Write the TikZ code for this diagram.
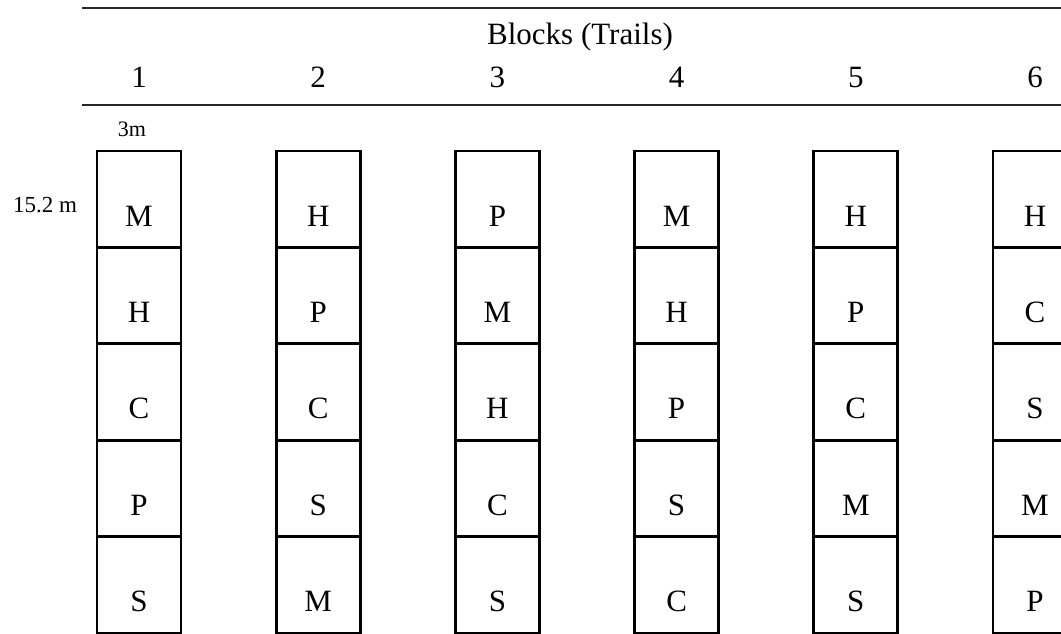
\documentclass[tikz,border=0pt]{standalone}
\usepackage{fontspec}
\setmainfont{Liberation Serif}
\usetikzlibrary{calc}
\begin{document}
\begin{tikzpicture}[x=1pt,y=-1pt,
  cell/.style={draw=black,line width=2.8pt,minimum width=84pt,minimum height=96.4pt,inner sep=0pt,outer sep=0pt,anchor=north west},
  letter/.style={anchor=base,inner sep=0pt,font=\fontsize{31}{36}\selectfont},
  head/.style={anchor=base,inner sep=0pt,font=\fontsize{31}{36}\selectfont},
  rule/.style={draw=black!85,line width=1.3pt}]
\useasboundingbox (0,0) rectangle (1061,634);
\clip (0,0) rectangle (1061,634);
\draw[rule] (82,8) -- (1061,8);
\draw[rule] (82,105) -- (1061,105);
\node[head] (title) at (580,45) {Blocks (Trails)};
\node[anchor=base,inner sep=0pt,font=\fontsize{22}{26}\selectfont] (w) at (132,136) {3m};
\node[anchor=base west,inner sep=0pt,font=\fontsize{23}{27}\selectfont] (l) at (13,212) {15.2 m};
\foreach \c/\list in {1/{M,H,C,P,S},2/{H,P,C,S,M},3/{P,M,H,C,S},4/{M,H,P,S,C},5/{H,P,C,M,S},6/{H,C,S,M,P}}{
  \pgfmathsetmacro{\xl}{97+179.2*(\c-1)}
  \node[head] (n\c) at (\xl+42,88) {\c};
  \foreach \t [count=\r] in \list {
    \pgfmathsetmacro{\yt}{151+96.4*(\r-1)}
    \node[cell] (c\c r\r) at (\xl,\yt) {};
    \node[letter] (t\c r\r) at ($(c\c r\r.south)+(0,-21.4)$) {\t};
  }
}
\end{tikzpicture}
\end{document}
